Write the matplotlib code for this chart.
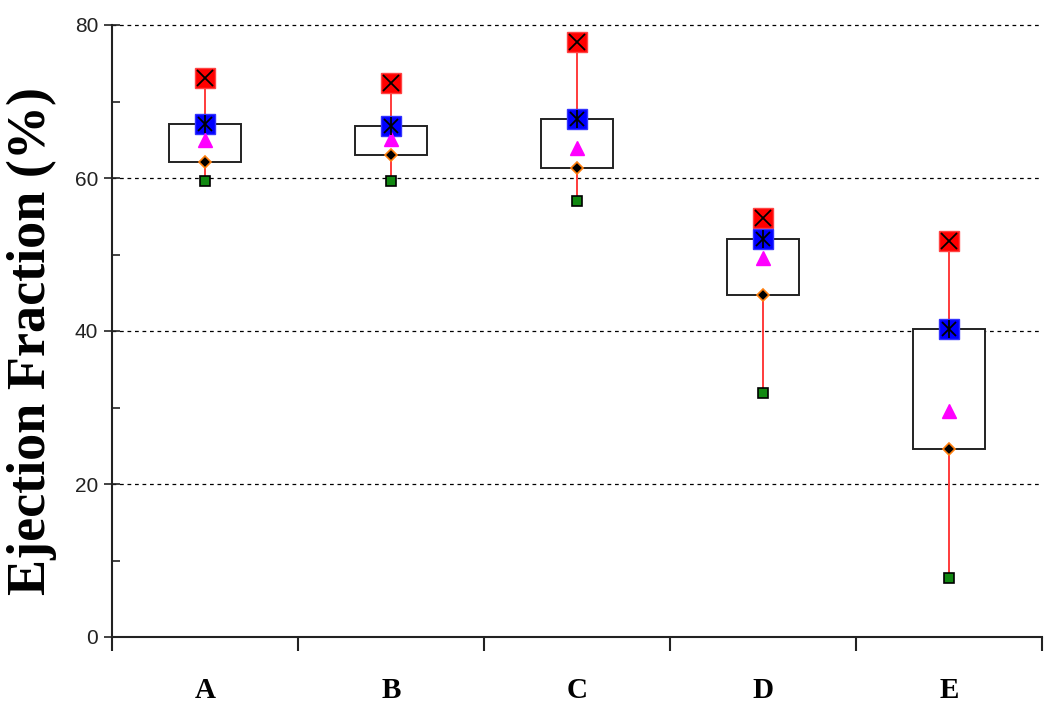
import matplotlib
matplotlib.use("Agg")
import matplotlib.pyplot as plt
import numpy as np
from matplotlib.patches import Rectangle
from matplotlib.ticker import MultipleLocator, FixedLocator, NullFormatter

# values
categories = ["A", "B", "C", "D", "E"]
max_vals = [73.1, 72.4, 77.8, 54.8, 51.8]
q3_vals = [67.1, 66.8, 67.7, 52.0, 40.2]
mean_vals = [65.0, 65.1, 63.9, 49.5, 29.5]
q1_vals = [62.1, 63.0, 61.3, 44.7, 24.6]
min_vals = [59.6, 59.6, 57.0, 31.9, 7.7]

W, H = 1050, 713
fig = plt.figure(figsize=(W / 100, H / 100), dpi=100, facecolor="white")
ax = fig.add_axes([112 / W, 1 - 637 / H, 930 / W, 612 / H])

xs = np.arange(len(categories)) + 0.5
box_w = 0.39

for x, lo, hi, q1, q3 in zip(xs, min_vals, max_vals, q1_vals, q3_vals):
    ax.plot([x, x], [lo, hi], color="#ff3b3b", lw=1.4, zorder=2)
    ax.add_patch(Rectangle((x - box_w / 2, q1), box_w, q3 - q1,
                           facecolor="white", edgecolor="#222222", lw=1.4, zorder=3))

ax.plot(xs, max_vals, ls="none", marker="s", ms=15, mfc="#ff0000", mec="#ff4444", zorder=4)
ax.plot(xs, max_vals, ls="none", marker="x", ms=12, mec="black", mew=1.3, zorder=5)
ax.plot(xs, q3_vals, ls="none", marker="s", ms=14.5, mfc="#0000ff", mec="#3333ff", zorder=4)
ax.plot(xs, q3_vals, ls="none", marker="x", ms=10, mec="black", mew=1.3, zorder=5)
ax.plot(xs, q3_vals, ls="none", marker="|", ms=13, mec="black", mew=1.3, zorder=5)
ax.plot(xs, mean_vals, ls="none", marker="^", ms=10, mfc="#ff00ff", mec="#ff00ff", zorder=4)
ax.plot(xs, q1_vals, ls="none", marker="D", ms=6.5, mfc="black", mec="#ff7f0e", mew=1.2, zorder=4)
ax.plot(xs, min_vals, ls="none", marker="s", ms=7.5, mfc="#118811", mec="black", mew=1.2, zorder=4)

ax.set_xlim(0, len(categories))
ax.set_ylim(0, 80)

for v in [20, 40, 60, 80]:
    ax.axhline(v, color="black", lw=0.9, ls=(0, (3, 3)), zorder=1, clip_on=False)

for side in ["top", "right"]:
    ax.spines[side].set_visible(False)
for side in ["left", "bottom"]:
    ax.spines[side].set_linewidth(1.5)
    ax.spines[side].set_color("#222222")

ax.yaxis.set_major_locator(MultipleLocator(20))
ax.yaxis.set_minor_locator(FixedLocator([10, 30, 50, 70]))
ax.yaxis.set_minor_formatter(NullFormatter())
ax.tick_params(axis="y", which="major", direction="inout", length=12, width=1.2,
               labelsize=15, pad=4, colors="#222222")
ax.tick_params(axis="y", which="minor", direction="in", length=6, width=1.2, color="#222222")
for lab in ax.get_yticklabels():
    lab.set_fontfamily("Liberation Sans")

ax.set_xticks(np.arange(len(categories) + 1))
ax.set_xticklabels([])
ax.set_xticks(xs, minor=True)
ax.set_xticklabels(categories, minor=True, fontfamily="Liberation Serif",
                   fontweight="bold", fontsize=21)
ax.tick_params(axis="x", which="major", direction="out", length=10, width=1.5, color="#222222")
ax.tick_params(axis="x", which="minor", length=0, pad=29)

fig.text(32 / W, 1 - 341 / H, "Ejection Fraction (%)", rotation=90, ha="center",
         va="center", fontfamily="Liberation Serif", fontweight="bold", fontsize=39)

fig.savefig("out.png", dpi=100, facecolor="white")
